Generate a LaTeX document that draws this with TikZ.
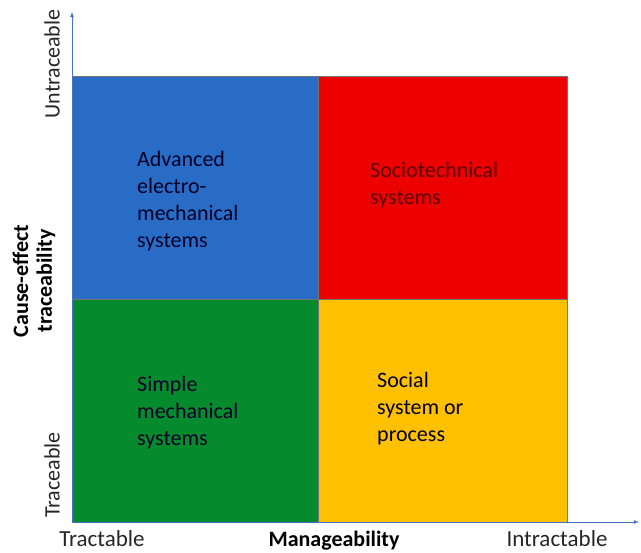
\documentclass[tikz,border=0pt]{standalone}
\usepackage{fontspec}
\setmainfont{Carlito}
\usepackage{tikz}
\usetikzlibrary{arrows}
\usepackage{color}
\definecolor{qblue}{RGB}{40,108,198}
\definecolor{qred}{RGB}{236,0,0}
\definecolor{qgreen}{RGB}{6,138,46}
\definecolor{qyellow}{RGB}{255,192,0}
\definecolor{axisblue}{RGB}{68,114,196}
\definecolor{textred}{RGB}{90,0,0}

\begin{document}
\begin{tikzpicture}[x=1pt,y=1pt,
		quad/.style={draw=black!55,line width=0.6pt},
		quadtext/.style={align=left,anchor=north west,inner sep=0pt,text=black!85!blue,font=\fontsize{22}{27}\selectfont},
		axislabel/.style={inner sep=0pt,text=black!85,font=\fontsize{22}{24}\selectfont}]
		\useasboundingbox (0,0) rectangle (641,553);
		\filldraw[quad,fill=qblue] (72,254) rectangle (318,477); % upper left
		\filldraw[quad,fill=qred] (318,254) rectangle (567,477); % upper right
		\filldraw[quad,fill=qgreen] (72,31) rectangle (318,254); % lower left
		\filldraw[quad,fill=qyellow] (318,31) rectangle (567,254); % lower right
		\coordinate (origin) at (72,31);
		\coordinate (ytop) at (72,541);
		\coordinate (xend) at (639,31);
		\draw[-latex,axisblue,line width=0.8pt] (origin) -- (ytop); % traceability axis
		\draw[-latex,axisblue,line width=0.8pt] (origin) -- (xend); % manageability axis
		\node[quadtext] (advanced) at (137,402) {Advanced\\electro-\\mechanical\\systems};
		\node[quadtext,text=textred] (sociotech) at (370,391) {Sociotechnical\\systems};
		\node[quadtext] (simple) at (137,177) {Simple\\mechanical\\systems};
		\node[quadtext] (social) at (377,181) {Social\\system or\\process};
		\node[axislabel,rotate=90] (untrace) at (52,489) {Untraceable};
		\node[axislabel,rotate=90] (trace) at (52,78) {Traceable};
		\node[axislabel,rotate=90,align=center,font=\fontsize{22}{24}\selectfont\bfseries,text=black] (yname) at (34,272) {Cause-effect\\traceability};
		\node[axislabel,anchor=base,font=\fontsize{23}{24}\selectfont] (tract) at (102,6) {Tractable};
		\node[axislabel,anchor=base,font=\fontsize{22}{24}\selectfont\bfseries,text=black] (xname) at (334,6) {Manageability};
		\node[axislabel,anchor=base,font=\fontsize{23}{24}\selectfont] (intract) at (557,6) {Intractable};
		\end{tikzpicture}
\end{document}
